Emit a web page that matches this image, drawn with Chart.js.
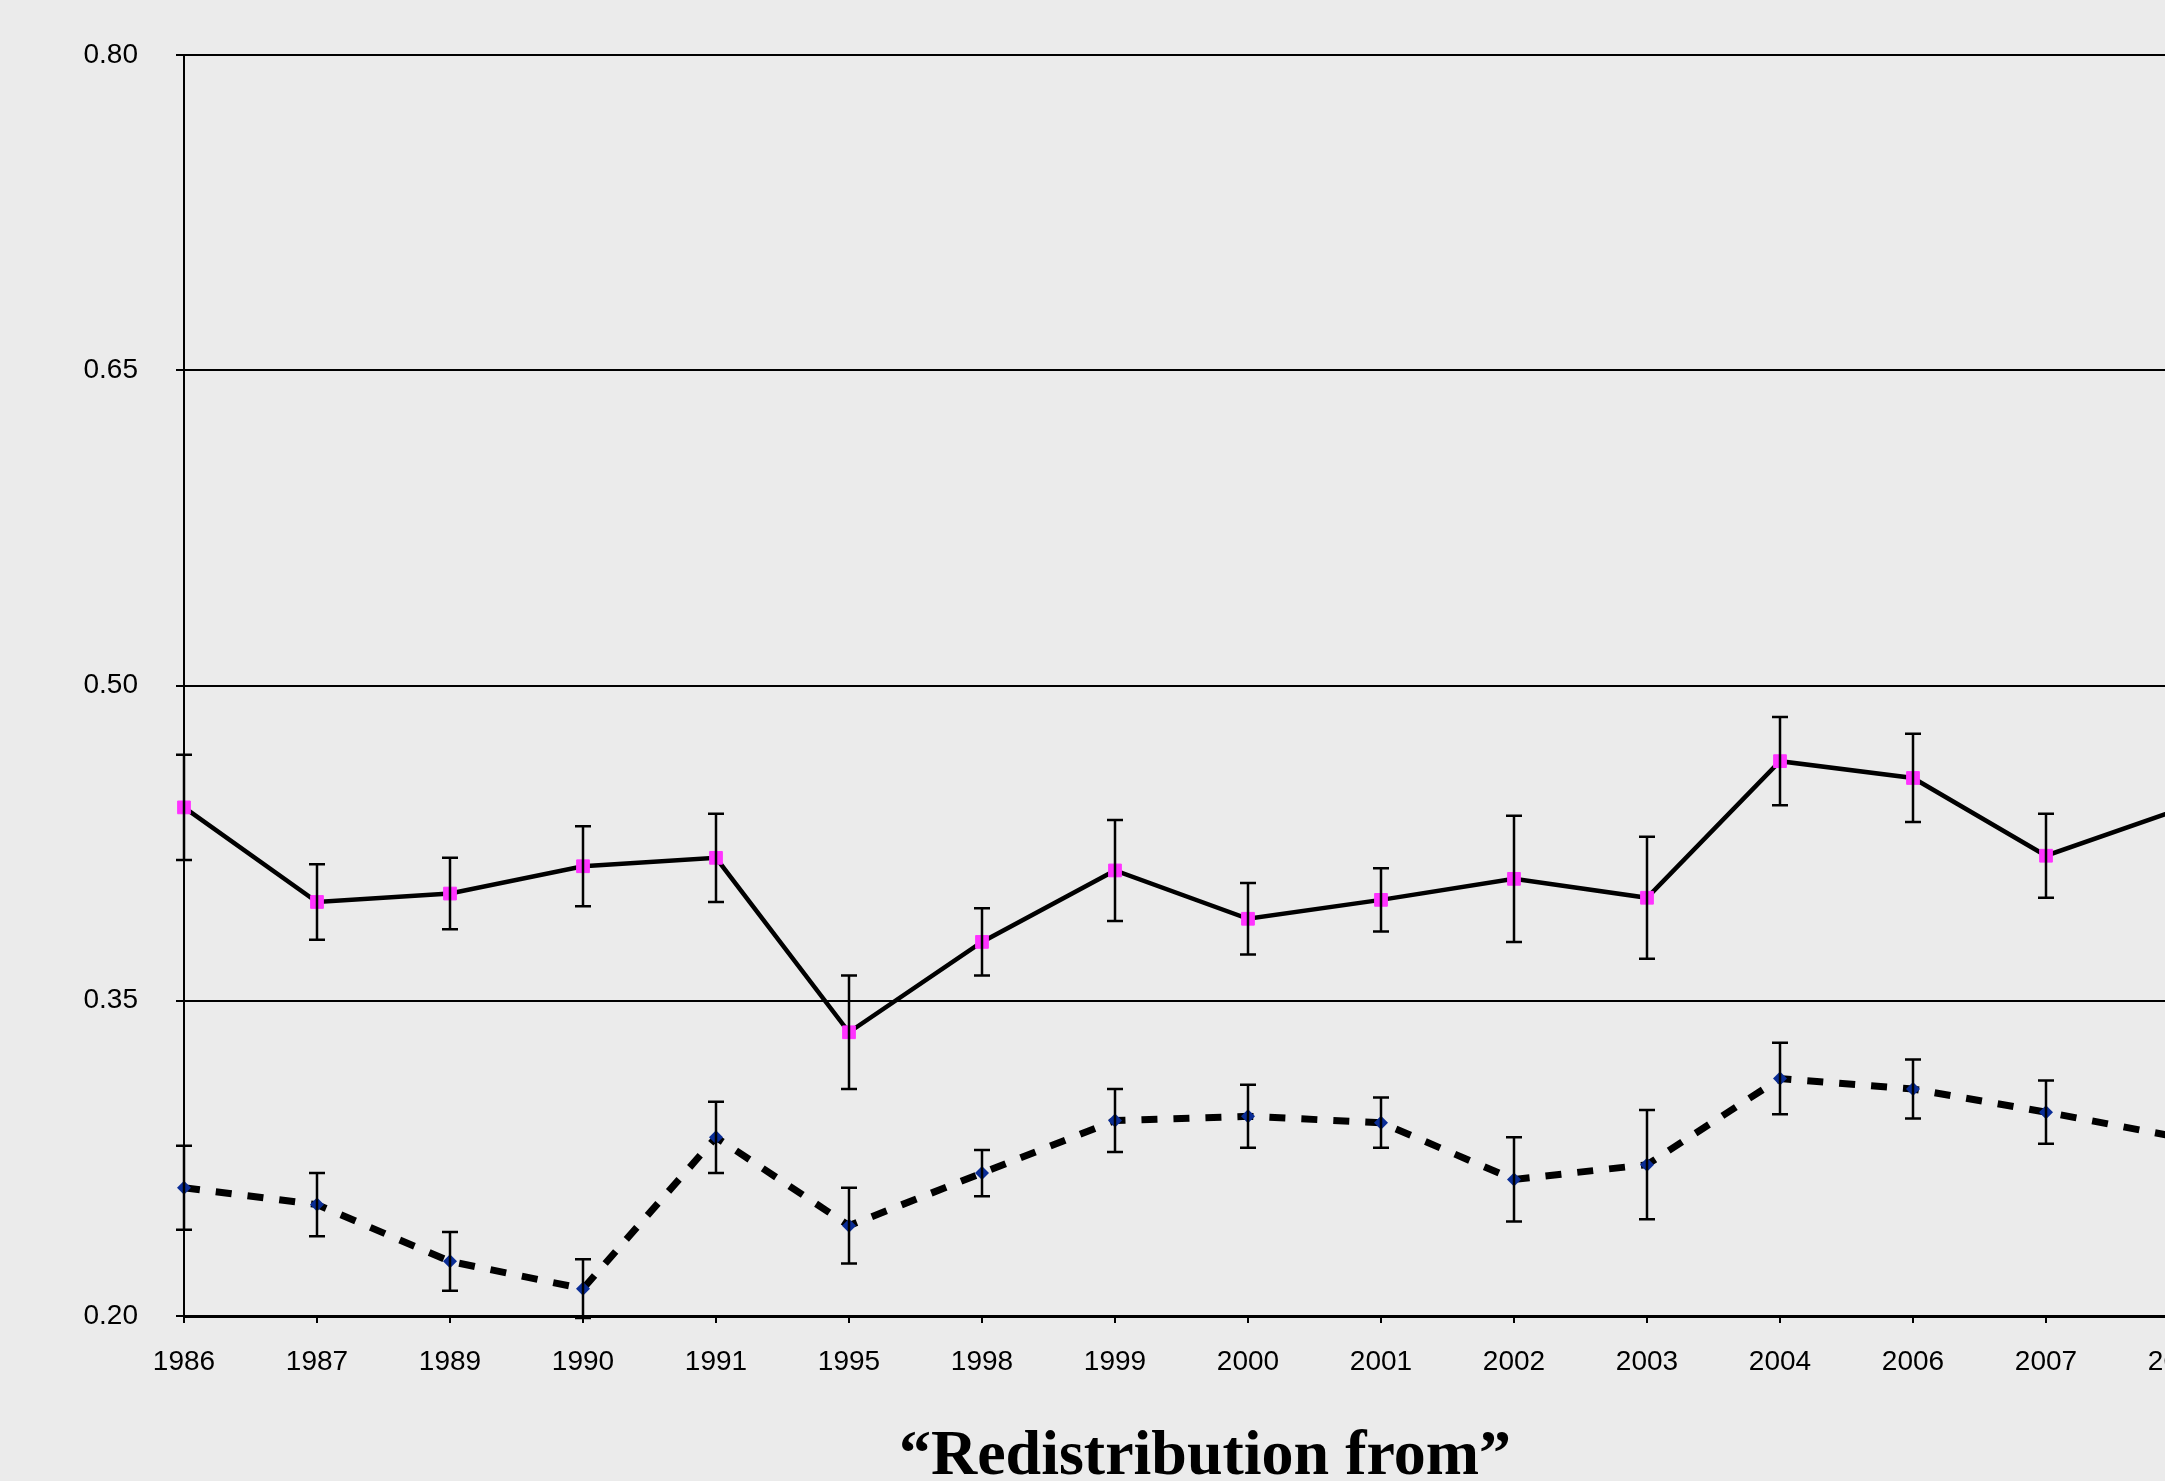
<!DOCTYPE html>
<html>
<head>
<meta charset="utf-8">
<script src="https://cdn.jsdelivr.net/npm/chart.js@4/dist/chart.umd.min.js"></script>
<style>
  html, body { margin: 0; padding: 0; background: #ebebeb; overflow: hidden; }
  #wrap { position: absolute; left: 0; top: 0; width: 2410px; height: 1481px; }
  canvas { display: block; }
  #title {
    position: absolute; left: 0; top: 1421px; width: 2410px;
    text-align: center; white-space: nowrap;
    font-family: 'Liberation Serif', 'Times New Roman', serif;
    font-weight: bold; font-size: 64px; line-height: 64px; color: #000;
  }
</style>
</head>
<body>
<div id="wrap">
  <canvas id="chart" width="2410" height="1481"></canvas>
  <div id="title"></div>
</div>
<script>
// Survey years (x categories)
const years = ['1986', '1987', '1989', '1990', '1991', '1995', '1998', '1999',
               '2000', '2001', '2002', '2003', '2004', '2006', '2007', '2008'];

// Upper series (solid line, magenta squares) and its error half-widths
const upperValues = [0.442, 0.397, 0.401, 0.414, 0.418, 0.335, 0.378, 0.412,
                     0.389, 0.398, 0.408, 0.399, 0.464, 0.456, 0.419, 0.441];
const upperErrors = [0.025, 0.018, 0.017, 0.019, 0.021, 0.027, 0.016, 0.024,
                     0.017, 0.015, 0.030, 0.029, 0.021, 0.021, 0.020, null];

// Lower series (dashed line, navy diamonds) and its error half-widths
const lowerValues = [0.261, 0.253, 0.226, 0.213, 0.285, 0.243, 0.268, 0.293,
                     0.295, 0.292, 0.265, 0.272, 0.313, 0.308, 0.297, 0.285];
const lowerErrors = [0.020, 0.015, 0.014, 0.014, 0.017, 0.018, 0.011, 0.015,
                     0.015, 0.012, 0.020, 0.026, 0.017, 0.014, 0.015, null];

// Value axis ticks
const yTickValues = [0.20, 0.35, 0.50, 0.65, 0.80];

const titleText = '\u201CRedistribution from\u201D';
document.getElementById('title').textContent = titleText;

// Draws vertical error bars with caps for any dataset carrying an `errors` array
const errorBarPlugin = {
  id: 'errorBars',
  afterDatasetsDraw(chart) {
    const ctx = chart.ctx;
    const yScale = chart.scales.y;
    chart.data.datasets.forEach((ds, i) => {
      if (!ds.errors) return;
      const meta = chart.getDatasetMeta(i);
      ctx.save();
      ctx.strokeStyle = '#000';
      ctx.lineWidth = 2.5;
      meta.data.forEach((pt, j) => {
        const e = ds.errors[j];
        const v = ds.data[j];
        if (e == null || v == null) return;
        const x = pt.x;
        const yTop = yScale.getPixelForValue(v + e);
        const yBot = yScale.getPixelForValue(v - e);
        const half = 8;
        ctx.beginPath();
        ctx.moveTo(x, yTop); ctx.lineTo(x, yBot);
        ctx.moveTo(x - half, yTop); ctx.lineTo(x + half, yTop);
        ctx.moveTo(x - half, yBot); ctx.lineTo(x + half, yBot);
        ctx.stroke();
      });
      ctx.restore();
    });
  }
};

new Chart(document.getElementById('chart'), {
  type: 'line',
  data: {
    labels: years,
    datasets: [
      {
        data: upperValues,
        errors: upperErrors,
        borderColor: '#000',
        borderWidth: 4.5,
        tension: 0,
        pointStyle: 'rect',
        pointRadius: 9,
        pointBackgroundColor: '#ff33ff',
        pointBorderColor: '#ff33ff',
        pointBorderWidth: 1
      },
      {
        data: lowerValues,
        errors: lowerErrors,
        borderColor: '#000',
        borderWidth: 7,
        borderDash: [16, 16],
        borderCapStyle: 'butt',
        tension: 0,
        pointStyle: 'rectRot',
        pointRadius: 7,
        pointBackgroundColor: '#0a2d96',
        pointBorderColor: '#0a2d96',
        pointBorderWidth: 0
      }
    ]
  },
  options: {
    responsive: false,
    animation: false,
    devicePixelRatio: 1,
    layout: { padding: { top: 55, left: 0, right: 231, bottom: 51 } },
    plugins: {
      legend: { display: false },
      tooltip: { enabled: false },
      title: { display: false }
    },
    scales: {
      x: {
        offset: false,
        grid: { display: true, drawOnChartArea: false, drawTicks: true, tickLength: 7, color: '#000', lineWidth: 2 },
        border: { display: true, color: '#000', width: 3 },
        ticks: {
          color: '#000',
          padding: 22,
          maxRotation: 0,
          autoSkip: false,
          font: { family: "'Liberation Sans', Arial, sans-serif", size: 28 }
        },
        afterFit(scale) { scale.height = 114; }
      },
      y: {
        min: 0.20,
        max: 0.80,
        afterBuildTicks(scale) { scale.ticks = yTickValues.map(v => ({ value: v })); },
        afterFit(scale) { scale.width = 184; },
        grid: { display: true, drawTicks: true, tickLength: 8, color: '#000', lineWidth: 2 },
        border: { display: true, color: '#000', width: 2 },
        ticks: {
          color: '#000',
          padding: 38,
          font: { family: "'Liberation Sans', Arial, sans-serif", size: 28 },
          callback: (v) => Number(v).toFixed(2)
        }
      }
    }
  },
  plugins: [errorBarPlugin]
});
</script>
</body>
</html>
